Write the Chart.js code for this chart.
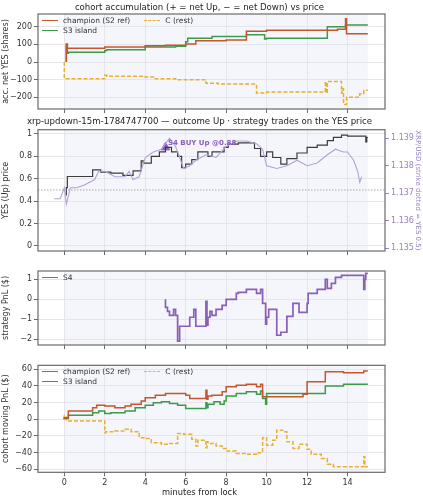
<!DOCTYPE html>
<html><head><meta charset="utf-8">
<script src="https://cdn.jsdelivr.net/npm/chart.js@4/dist/chart.umd.min.js"></script>
<style>
body{margin:0;background:#fff;font-family:"DejaVu Sans",sans-serif;}
.p{position:absolute;left:0;width:423px;}
.t{position:absolute;left:0;width:423px;padding-left:0;text-align:center;font-size:8.6px;color:#222;z-index:2;white-space:nowrap;}
.lg{position:absolute;font-size:7.5px;color:#333;line-height:10px;z-index:2;}
.lg span.k{display:inline-block;width:16px;margin-right:5px;vertical-align:middle;border-top:1.5px solid;}
.lab{position:absolute;font-size:7px;font-weight:bold;color:#8a5fb8;z-index:2;}
</style></head><body>
<div class="t" style="top:2px;left:-12px">cohort accumulation (+ = net Up, − = net Down) vs price</div>
<div class="t" style="top:116px;left:-12px">xrp-updown-15m-1784747700 — outcome Up · strategy trades on the YES price</div>
<div class="t" style="top:487px;left:-12px;font-size:8.3px">minutes from lock</div>
<canvas id="c1" class="p" style="top:0"></canvas>
<canvas id="c2" class="p" style="top:118px"></canvas>
<canvas id="c3" class="p" style="top:262px"></canvas>
<canvas id="c4" class="p" style="top:355px"></canvas>
<div class="lg" style="left:42px;top:16px"><span class="k" style="border-color:#c4552d"></span>champion (S2 ref)<span style="display:inline-block;width:14px"></span><span class="k" style="border-color:#e6b030;border-top-style:dashed"></span>C (rest)<br><span class="k" style="border-color:#3d9a4a"></span>S3 island</div>
<div class="lab" style="left:168px;top:139px">S4 BUY Up @0.88</div>
<div class="lg" style="left:42px;top:273px"><span class="k" style="border-color:#8a5fb8"></span>S4</div>
<div class="lg" style="left:42px;top:367px"><span class="k" style="border-color:#c4552d"></span>champion (S2 ref)<span style="display:inline-block;width:14px"></span><span class="k" style="border-color:#e6b030;border-top-style:dashed"></span>C (rest)<br><span class="k" style="border-color:#3d9a4a"></span>S3 island</div>
<script>
// ---- data ----
const xTicks = [0, 2, 4, 6, 8, 10, 12, 14];

const accChampT = [0.1, 0.15, 2.0, 4.0, 5.0, 6.0, 6.5, 8.0, 9.0, 10.0, 13.5, 13.9, 13.95, 14.6, 15.0];
const accChampV = [0, 100, 78, 85, 92, 95, 102, 120, 125, 175, 180, 185, 245, 160, 160];
const accS3T = [0.1, 0.15, 0.2, 2.0, 2.1, 4.0, 5.5, 6.0, 6.1, 7.3, 9.0, 9.9, 10.0, 13.0, 13.9, 14.6, 15.0];
const accS3V = [0, 100, 50, 55, 65, 70, 85, 90, 115, 135, 145, 155, 130, 135, 200, 210, 210];
const accCT = [0, 0.2, 2.0, 2.1, 3.9, 4.5, 5.5, 7.0, 7.6, 9.5, 10.0, 10.5, 12.9, 12.93, 13.0, 13.7, 13.73, 13.8, 13.95, 14.6, 14.8, 14.9, 15.0];
const accCV = [0, -95, -95, -75, -80, -85, -95, -100, -120, -125, -175, -170, -170, -110, -175, -110, -175, -150, -240, -200, -180, -160, -160];

const yesT = [0.1, 0.15, 1.4, 1.8, 2.3, 2.9, 3.4, 3.8, 3.9, 4.3, 4.7, 5.0, 5.3, 5.6, 5.8, 6.0, 6.3, 6.6, 7.1, 7.3, 7.9, 8.1, 8.6, 9.4, 9.7, 10.0, 10.3, 10.7, 11.0, 11.5, 12.0, 12.5, 13.0, 13.3, 13.7, 14.0, 14.9, 14.95, 15.0];
const yesV = [0.45, 0.52, 0.62, 0.68, 0.66, 0.65, 0.63, 0.67, 0.76, 0.74, 0.80, 0.84, 0.88, 0.84, 0.80, 0.70, 0.73, 0.77, 0.84, 0.80, 0.84, 0.88, 0.91, 0.92, 0.87, 0.80, 0.84, 0.79, 0.73, 0.78, 0.83, 0.88, 0.90, 0.94, 0.97, 0.99, 0.98, 0.93, 0.97];
const xrpT = [-0.5, -0.2, 0, 0.1, 0.3, 0.6, 1.0, 1.5, 1.7, 2.0, 2.5, 3.0, 3.2, 3.4, 3.7, 4.0, 4.4, 4.8, 5.0, 5.2, 5.5, 5.9, 6.2, 6.5, 7.0, 7.5, 8.0, 8.5, 9.0, 9.5, 9.8, 10.0, 10.5, 11.0, 11.5, 12.0, 12.5, 13.0, 13.4, 13.8, 14.0, 14.3, 14.5, 14.6, 14.7];
const xrpV = [1.1368, 1.1368, 1.1372, 1.1366, 1.1372, 1.1372, 1.1373, 1.1375, 1.1378, 1.1378, 1.1376, 1.1376, 1.1378, 1.1375, 1.1376, 1.1383, 1.1385, 1.1386, 1.1388, 1.1390, 1.1387, 1.1379, 1.1380, 1.1382, 1.1384, 1.1383, 1.1387, 1.1389, 1.1389, 1.1388, 1.1386, 1.1380, 1.1379, 1.1380, 1.1382, 1.1380, 1.1381, 1.1384, 1.1386, 1.1385, 1.1385, 1.1382, 1.1378, 1.1374, 1.1376];
const buyT = [5.0];
const buyV = [0.88];

const s4T = [5.0, 5.1, 5.2, 5.4, 5.5, 5.6, 5.7, 6.2, 6.4, 6.5, 6.6, 7.0, 7.05, 7.1, 7.2, 7.3, 7.5, 7.8, 8.0, 8.5, 8.6, 9.0, 9.5, 9.7, 9.8, 9.95, 10.0, 10.1, 10.5, 10.7, 11.0, 11.3, 11.6, 12.0, 12.05, 12.5, 12.9, 13.0, 13.2, 13.4, 13.7, 14.3, 14.8, 14.85, 14.9, 15.0];
const s4V = [0, -0.4, -0.6, -0.8, -0.5, -0.8, -2.1, -1.35, -0.9, -0.5, -1.35, -1.35, -0.1, -1.3, -0.9, -0.6, -0.8, -0.5, -0.3, 0.0, 0.3, 0.35, 0.5, 0.3, 0.5, -0.2, -1.25, -0.9, -0.5, -1.8, -1.65, -0.85, -0.2, -0.65, -0.2, 0.3, 0.5, 1.0, 0.55, 0.8, 1.1, 1.2, 1.2, 0.5, 1.0, 1.3];

const pnlChampT = [0, 0.2, 1.4, 1.6, 2.0, 2.5, 3.0, 3.3, 3.8, 4.0, 4.5, 5.0, 5.3, 6.0, 6.2, 6.5, 7.0, 7.05, 7.1, 7.3, 7.8, 8.0, 8.5, 9.0, 9.5, 9.7, 9.8, 10.0, 11.8, 12.0, 12.9, 13.8, 14.8, 15.0];
const pnlChampV = [0, 2, 10, 14, 17, 16, 14, 16, 18, 22, 26, 29, 31, 31, 29, 25, 25, 35, 24, 28, 29, 33, 39, 41, 42, 39, 42, 27, 27, 30, 45, 57, 56, 58];
const pnlS3T = [0, 0.2, 1.4, 1.7, 2.0, 2.3, 3.0, 3.5, 4.0, 4.4, 4.8, 5.2, 5.6, 6.0, 6.5, 7.0, 7.05, 7.1, 7.4, 7.7, 7.9, 8.0, 8.5, 9.0, 9.5, 9.7, 9.8, 9.95, 10.0, 12.9, 13.8, 15.0];
const pnlS3V = [0, 1, 5, 8, 10, 7, 8, 10, 14, 17, 20, 21, 19, 17, 13, 13, 20, 14, 18, 21, 18, 22, 28, 31, 33, 30, 34, 25, 18, 31, 40, 42];
const pnlCT = [0, 0.1, 0.2, 2.0, 2.05, 2.5, 3.0, 3.3, 3.7, 4.0, 4.3, 4.8, 5.2, 5.6, 5.9, 6.3, 6.5, 6.6, 6.8, 7.0, 7.05, 7.1, 7.5, 7.8, 8.0, 8.5, 9.0, 9.5, 9.8, 10.0, 10.3, 10.5, 10.8, 11.0, 11.3, 11.6, 12.0, 12.2, 12.7, 13.0, 13.3, 13.8, 14.8, 14.85, 15.0];
const pnlCV = [0, 4, -2, -2, -16, -15, -14, -12, -15, -22, -23, -28, -30, -29, -17, -18, -24, -32, -25, -25, -34, -27, -29, -32, -35, -38, -41, -42, -40, -22, -31, -25, -13, -15, -27, -35, -30, -36, -42, -47, -54, -57, -57, -45, -57];

// ---- helpers ----
const pts = (t, v) => t.map((x, i) => ({x: x, y: v[i]}));
const GRID = '#e6e6e6', FRAME = '#6a6a6a', TICK = '#333';
const FONT = {family: 'DejaVu Sans', size: 8};

const band = {
  id: 'band',
  beforeDatasetsDraw(c) {
    const a = c.chartArea, x = c.scales.x, g = c.ctx;
    g.save();
    g.fillStyle = 'rgba(225,230,245,0.35)';
    g.fillRect(x.getPixelForValue(0), a.top, x.getPixelForValue(15) - x.getPixelForValue(0), a.bottom - a.top);
    g.restore();
  },
  afterDraw(c) {
    const a = c.chartArea, g = c.ctx;
    g.save();
    g.strokeStyle = FRAME; g.lineWidth = 1.2;
    g.strokeRect(a.left, a.top, a.right - a.left, a.bottom - a.top);
    g.restore();
  }
};

function xScale(h, labels) {
  return {
    type: 'linear', min: -1.3, max: 15.85,
    afterBuildTicks: s => { s.ticks = xTicks.map(v => ({value: v})); },
    afterFit: s => { s.height = h; },
    grid: {color: GRID, drawTicks: true, tickLength: 4, tickColor: FRAME},
    border: {display: false},
    ticks: {display: labels, color: TICK, font: FONT, padding: 2},
  };
}
function yScale(min, max, ticks, title, pos, color) {
  return {
    type: 'linear', position: pos || 'left', min: min, max: max,
    afterBuildTicks: s => { s.ticks = ticks.map(v => ({value: v})); },
    afterFit: s => { s.width = 38; },
    grid: {color: pos === 'right' ? 'transparent' : GRID, tickLength: 4, tickColor: color || FRAME},
    border: {display: false},
    ticks: {color: color || TICK, font: FONT, padding: 2,
      callback: v => pos === 'right' ? v.toFixed(3) : (String(v).replace('-', '−'))},
    title: {display: true, text: title, color: color || TICK, font: {family: 'DejaVu Sans', size: pos === 'right' ? 7 : 8}, padding: 1}
  };
}
function line(data, color, extra) {
  return Object.assign({data: data, borderColor: color, borderWidth: 1.5, pointRadius: 0, stepped: 'after', tension: 0, fill: false}, extra || {});
}
function make(id, h, pad, datasets, scales) {
  const cv = document.getElementById(id);
  cv.width = 423; cv.height = h;
  return new Chart(cv, {
    type: 'line',
    data: {datasets: datasets},
    options: {
      responsive: false, animation: false, parsing: false,
      layout: {padding: pad},
      plugins: {legend: {display: false}, tooltip: {enabled: false}},
      scales: scales
    },
    plugins: [band]
  });
}

// ---- panel 1 ----
make('c1', 118, {top: 14, right: 38, left: 0, bottom: 0}, [
  line(pts(accChampT, accChampV), '#c4552d'),
  line(pts(accS3T, accS3V), '#3d9a4a'),
  line(pts(accCT, accCV), '#e6b030', {borderDash: [4, 2]})
], {
  x: xScale(9, false),
  y: yScale(-266, 272, [-200, -100, 0, 100, 200], 'acc. net YES (shares)')
});

// ---- panel 2 ----
make('c2', 144, {top: 11.7, left: 0, right: 0, bottom: 0}, [
  line(pts([-1.3, 15.85], [0.5, 0.5]), '#aaaaaa', {borderDash: [1.5, 1.5], borderWidth: 1, stepped: false}),
  line(pts(xrpT, xrpV), '#b3a2d4', {stepped: false, yAxisID: 'y2', borderWidth: 1.1}),
  line(pts(yesT, yesV), '#3c3c3c', {borderWidth: 1.2}),
  {type: 'scatter', data: pts(buyT, buyV), pointStyle: 'triangle', pointRadius: 5, backgroundColor: '#8a5fb8', borderColor: '#8a5fb8'}
], {
  x: xScale(11, false),
  y: yScale(-0.045, 1.038, [0, 0.2, 0.4, 0.6, 0.8, 1.0], 'YES (Up) price'),
  y2: yScale(1.1349, 1.13931, [1.135, 1.136, 1.137, 1.138, 1.139], 'XRP/USD (strike dotted = YES 0.5)', 'right', '#9b7fc7')
});

// ---- panel 3 ----
make('c3', 93, {top: 9, right: 38, left: 0, bottom: 0}, [
  line(pts(s4T, s4V), '#8a5fb8', {borderWidth: 1.7})
], {
  x: xScale(10, false),
  y: yScale(-2.29, 1.42, [-2, -1, 0, 1], 'strategy PnL ($)')
});

// ---- panel 4 ----
make('c4', 145, {top: 10.3, right: 38, left: 0, bottom: 0}, [
  line(pts(pnlChampT, pnlChampV), '#c4552d'),
  line(pts(pnlS3T, pnlS3V), '#3d9a4a'),
  line(pts(pnlCT, pnlCV), '#e6b030', {borderDash: [4, 2]})
], {
  x: xScale(27.7, true),
  y: yScale(-63.6, 64.8, [-60, -40, -20, 0, 20, 40, 60], 'cohort moving PnL ($)')
});
</script>
</body></html>
